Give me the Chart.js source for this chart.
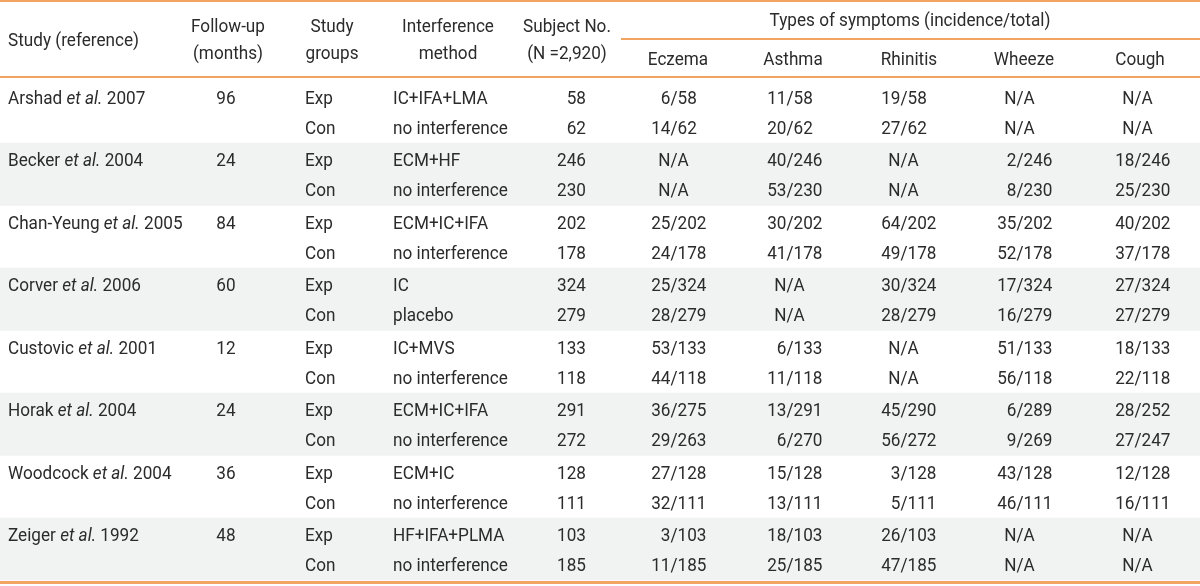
<!DOCTYPE html>
<html><head><meta charset="utf-8">
<script src="https://cdn.jsdelivr.net/npm/chart.js@4.4.1/dist/chart.umd.min.js"></script>
<style>html,body{margin:0;padding:0;background:#fff;}canvas{display:block;}</style>
</head><body>
<canvas id="c" width="1200" height="586"></canvas>
<script>
// ---------- data ----------
const studyAuthors = ['Arshad','Becker','Chan-Yeung','Corver','Custovic','Horak','Woodcock','Zeiger'];
const studyYears   = [2007, 2004, 2005, 2006, 2001, 2004, 2004, 1992];
const followUp     = [96, 24, 84, 60, 12, 24, 36, 48];
const groupLabels  = ['Exp', 'Con'];
const methodExp    = ['IC+IFA+LMA','ECM+HF','ECM+IC+IFA','IC','IC+MVS','ECM+IC+IFA','ECM+IC','HF+IFA+PLMA'];
const methodCon    = ['no interference','no interference','no interference','placebo','no interference','no interference','no interference','no interference'];
const subjectsExp  = [58, 246, 202, 324, 133, 291, 128, 103];
const subjectsCon  = [62, 230, 178, 279, 118, 272, 111, 185];
const symptomNames = ['Eczema','Asthma','Rhinitis','Wheeze','Cough'];
// per row (Exp, Con for each study); null = N/A
const eczema   = [[6,58],[14,62],null,null,[25,202],[24,178],[25,324],[28,279],[53,133],[44,118],[36,275],[29,263],[27,128],[32,111],[3,103],[11,185]];
const asthma   = [[11,58],[20,62],[40,246],[53,230],[30,202],[41,178],null,null,[6,133],[11,118],[13,291],[6,270],[15,128],[13,111],[18,103],[25,185]];
const rhinitis = [[19,58],[27,62],null,null,[64,202],[49,178],[30,324],[28,279],null,null,[45,290],[56,272],[3,128],[5,111],[26,103],[47,185]];
const wheeze   = [null,null,[2,246],[8,230],[35,202],[52,178],[17,324],[16,279],[51,133],[56,118],[6,289],[9,269],[43,128],[46,111],null,null];
const cough    = [null,null,[18,246],[25,230],[40,202],[37,178],[27,324],[27,279],[18,133],[22,118],[28,252],[27,247],[12,128],[16,111],null,null];
const headerStudy   = 'Study (reference)';
const headerFollow  = ['Follow-up','(months)'];
const headerGroups  = ['Study','groups'];
const headerMethod  = ['Interference','method'];
const headerSubject = ['Subject No.','(N =2,920)'];
const headerTypes   = 'Types of symptoms (incidence/total)';

// ---------- style ----------
const LINE = '#f2a461';
const TEXT = '#2b2b2b';
const BAND = '#f1f3f2';
const FS = 18.5;
const FAM = 'Roboto';
const TABLE_W = 1200;

let SX = 1;
(function(){
  const c = document.createElement('canvas').getContext('2d');
  c.font = FS + 'px ' + FAM;
  const r1 = 137 / c.measureText(headerStudy).width;
  const r2 = 110 / c.measureText('no interference').width;
  const r3 = 280 / c.measureText(headerTypes).width;
  SX = (r1 + r2 + r3) / 3;
})();

function txt(ctx, s, x, yc, align, style){
  ctx.font = (style || 'normal') + ' ' + FS + 'px ' + FAM;
  const w = ctx.measureText(s).width * SX;
  const x0 = align === 'left' ? x : align === 'right' ? x - w : x - w / 2;
  ctx.save();
  ctx.translate(x0, yc + FS * 0.355);
  ctx.scale(SX, 1);
  ctx.textAlign = 'left'; ctx.textBaseline = 'alphabetic';
  ctx.fillStyle = TEXT;
  ctx.fillText(s, 0, 0);
  ctx.restore();
  return w;
}
function width(ctx, s, style){
  ctx.font = (style || 'normal') + ' ' + FS + 'px ' + FAM;
  return ctx.measureText(s).width * SX;
}
function slashText(ctx, s, slashX, yc){
  const i = s.indexOf('/');
  const pre = width(ctx, s.slice(0, i));
  const sl = width(ctx, '/');
  txt(ctx, s, slashX - pre - sl / 2, yc, 'left');
}
const fmt = v => v ? v[0] + '/' + v[1] : 'N/A';

// column anchors in table units (x scale 0..TABLE_W)
const COL = {study: 8, follow: 226, group: 305, method: 393, subject: 586,
             symptoms: [674, 790, 904, 1020, 1138], followHead: 228, groupHead: 332,
             methodHead: 448, subjectHead: 567, typesHead: 910, subLineStart: 621,
             symptomHead: [678, 793, 909, 1024, 1140]};

const tablePlugin = {
  id: 'tableText',
  afterDatasetsDraw(chart){
    const ctx = chart.ctx, xs = chart.scales.x, ys = chart.scales.y, ca = chart.chartArea;
    const X = v => xs.getPixelForValue(v);
    ctx.save();
    // rules
    ctx.fillStyle = LINE;
    ctx.fillRect(X(0), 0, X(TABLE_W) - X(0), 2);
    ctx.fillRect(X(COL.subLineStart), 38, X(TABLE_W) - X(COL.subLineStart), 2);
    ctx.fillRect(X(0), 76, X(TABLE_W) - X(0), 2);
    ctx.fillRect(X(0), ca.bottom + 0.5, X(TABLE_W) - X(0), 3);
    // header
    txt(ctx, headerStudy, X(COL.study), 39, 'left');
    txt(ctx, headerFollow[0], X(COL.followHead), 25.5, 'center');
    txt(ctx, headerFollow[1], X(COL.followHead), 52.5, 'center');
    txt(ctx, headerGroups[0], X(COL.groupHead), 25.5, 'center');
    txt(ctx, headerGroups[1], X(COL.groupHead), 52.5, 'center');
    txt(ctx, headerMethod[0], X(COL.methodHead), 25.5, 'center');
    txt(ctx, headerMethod[1], X(COL.methodHead), 52.5, 'center');
    txt(ctx, headerSubject[0], X(COL.subjectHead), 25.5, 'center');
    txt(ctx, headerSubject[1], X(COL.subjectHead), 52.5, 'center');
    txt(ctx, headerTypes, X(COL.typesHead), 19, 'center');
    symptomNames.forEach((n, k) => txt(ctx, n, X(COL.symptomHead[k]), 58, 'center'));
    // body
    const series = [eczema, asthma, rhinitis, wheeze, cough];
    const bandH = ys.getPixelForValue(1) - ys.getPixelForValue(0);
    studyAuthors.forEach((a, i) => {
      const yc = ys.getPixelForValue(i);
      const rows = [yc - bandH * 0.234, yc + bandH * 0.25];
      let x = X(COL.study);
      x += txt(ctx, a + ' ', x, rows[0], 'left');
      x += txt(ctx, 'et al.', x, rows[0], 'left', 'italic');
      txt(ctx, ' ' + studyYears[i], x, rows[0], 'left');
      txt(ctx, String(followUp[i]), X(COL.follow), rows[0], 'center');
      [methodExp[i], methodCon[i]].forEach((m, g) => {
        const yy = rows[g];
        txt(ctx, groupLabels[g], X(COL.group), yy, 'left');
        txt(ctx, m, X(COL.method), yy, 'left');
        txt(ctx, String(g === 0 ? subjectsExp[i] : subjectsCon[i]), X(COL.subject), yy, 'right');
        series.forEach((s, k) => slashText(ctx, fmt(s[i * 2 + g]), X(COL.symptoms[k]), yy));
      });
    });
    ctx.restore();
  }
};

new Chart(document.getElementById('c'), {
  type: 'bar',
  data: {
    labels: studyAuthors.map((a, i) => a + ' ' + studyYears[i]),
    datasets: [{
      data: studyAuthors.map((_, i) => i % 2 === 1 ? [0, TABLE_W] : null),
      backgroundColor: BAND,
      borderWidth: 0,
      barPercentage: 1,
      categoryPercentage: 1
    }]
  },
  options: {
    indexAxis: 'y',
    responsive: false,
    devicePixelRatio: 1,
    animation: false,
    layout: {padding: {top: 80.5, bottom: 5.5, left: 0, right: 0}},
    scales: {
      x: {type: 'linear', min: 0, max: TABLE_W, display: false},
      y: {type: 'category', display: false, offset: true}
    },
    plugins: {legend: {display: false}, tooltip: {enabled: false}}
  },
  plugins: [tablePlugin]
});
</script>
</body></html>
